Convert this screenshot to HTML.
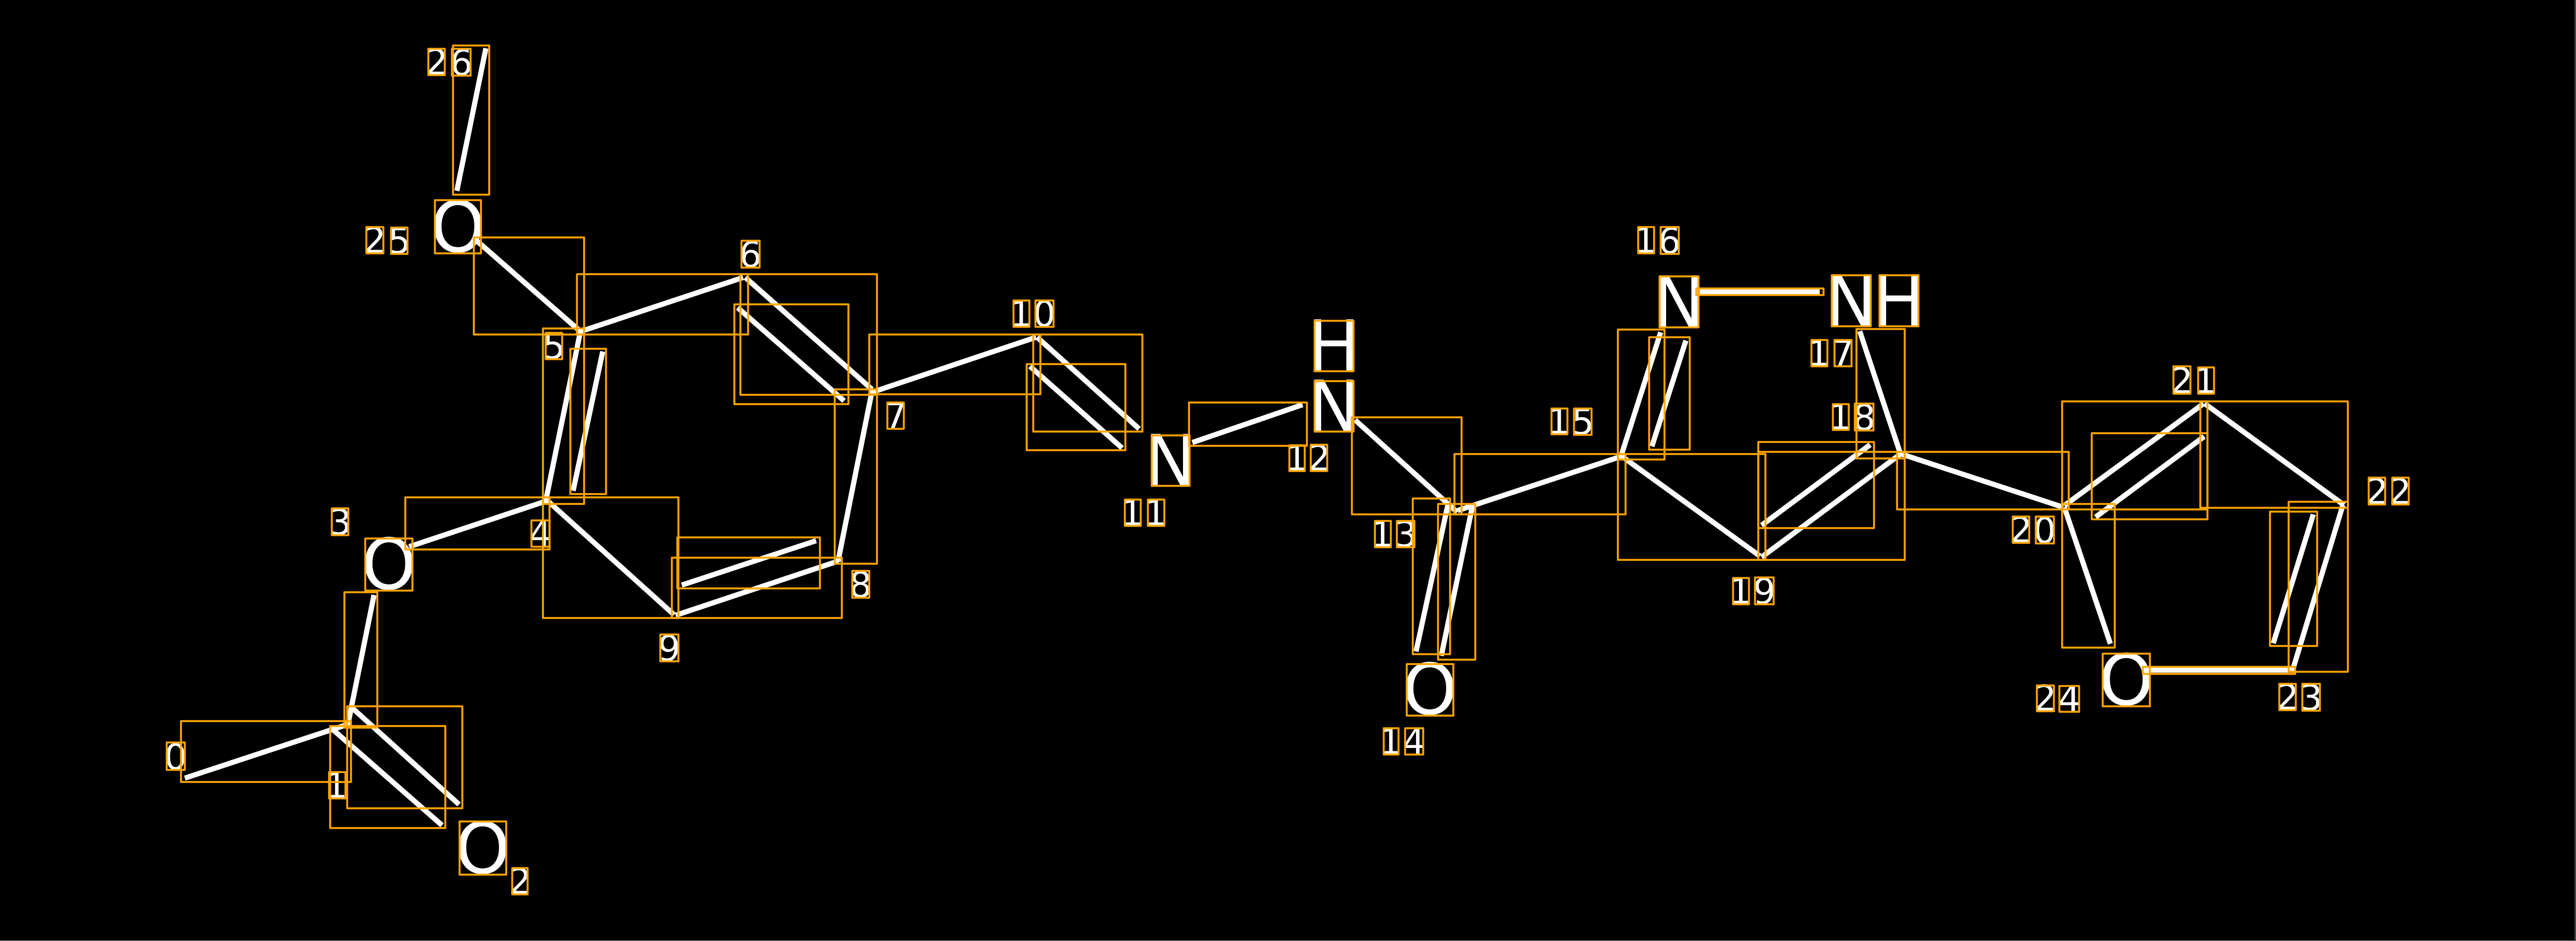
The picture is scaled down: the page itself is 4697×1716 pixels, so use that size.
<!DOCTYPE html>
<html>
<head>
<meta charset="utf-8">
<style>
html,body{margin:0;padding:0;background:#000;width:4697px;height:1716px;overflow:hidden}
svg{display:block}
text{font-family:"DejaVu Sans","Liberation Sans",sans-serif;fill:#fff;text-anchor:middle}
.d{font-size:65px}
.a{font-size:128px}
line{stroke:#fff;stroke-width:9.5;stroke-linecap:butt}
rect{fill:none;stroke:#FFA500;stroke-width:3.5;stroke-linejoin:round}
</style>
</head>
<body>
<svg width="4697" height="1716" viewBox="0 0 4697 1716" xmlns="http://www.w3.org/2000/svg">
<rect x="0" y="0" width="4697" height="1716" style="fill:#000;stroke:none"/>
<path d="M0 1715.5H4695.5V0" fill="none" stroke="#777" stroke-width="1.5"/>

<!-- bonds -->
<line x1="337" y1="1419" x2="637" y2="1320"/>
<line x1="682" y1="1085" x2="634" y2="1323"/>
<line x1="640" y1="1289" x2="837" y2="1467"/>
<line x1="603" y1="1327" x2="806" y2="1505"/>
<line x1="886" y1="88" x2="833" y2="348"/>
<line x1="868" y1="438" x2="1059" y2="605"/>
<line x1="1057" y1="605" x2="1355" y2="506"/>
<line x1="1359" y1="506" x2="1590" y2="710"/>
<line x1="1345" y1="561" x2="1539" y2="731"/>
<line x1="1059" y1="601" x2="995" y2="914"/>
<line x1="1099" y1="641" x2="1045" y2="895"/>
<line x1="746" y1="997" x2="998" y2="913"/>
<line x1="997" y1="912" x2="1229" y2="1121"/>
<line x1="1232" y1="1122" x2="1529" y2="1023"/>
<line x1="1243" y1="1067" x2="1488" y2="986"/>
<line x1="1590" y1="713" x2="1528" y2="1024"/>
<line x1="1588" y1="716" x2="1889" y2="615"/>
<line x1="1891" y1="615" x2="2077" y2="782"/>
<line x1="1878" y1="668" x2="2046" y2="817"/>
<line x1="2174" y1="807" x2="2375" y2="738"/>
<line x1="2471" y1="766" x2="2657" y2="934"/>
<line x1="2641" y1="916" x2="2582" y2="1188"/>
<line x1="2685" y1="922" x2="2628" y2="1196"/>
<line x1="2658" y1="931" x2="2957" y2="832"/>
<line x1="3028" y1="606" x2="2955" y2="834"/>
<line x1="3074" y1="621" x2="3012" y2="814"/>
<line x1="2957" y1="832" x2="3209" y2="1014"/>
<line x1="3212" y1="1016" x2="3464" y2="829"/>
<line x1="3212" y1="958" x2="3410" y2="811"/>
<line x1="3099" y1="532" x2="3318" y2="532"/>
<line x1="3391" y1="604" x2="3466" y2="830"/>
<line x1="3464" y1="827" x2="3762" y2="925"/>
<line x1="3764" y1="922" x2="4018" y2="736"/>
<line x1="3821" y1="943" x2="4019" y2="796"/>
<line x1="4020" y1="736" x2="4274" y2="921"/>
<line x1="4272" y1="921" x2="4180" y2="1223"/>
<line x1="4218" y1="938" x2="4145" y2="1173"/>
<line x1="3915" y1="1222" x2="4184" y2="1222"/>
<line x1="3764" y1="925" x2="3848" y2="1174"/>

<!-- atom labels -->
<text class="a" x="880" y="1592">O</text>
<text class="a" x="709" y="1074">O</text>
<text class="a" x="835" y="459">O</text>
<text class="a" x="2134" y="885">N</text>
<text class="a" x="2432" y="676">H</text>
<text class="a" x="2432" y="786">N</text>
<text class="a" x="2607" y="1302">O</text>
<text class="a" x="3061" y="596">N</text>
<text class="a" x="3375" y="594">N</text>
<text class="a" x="3462" y="594">H</text>
<text class="a" x="3877" y="1285">O</text>

<!-- index labels -->
<text class="d" x="320" y="1403">0</text>
<text class="d" x="613" y="1455">1</text>
<text class="d" x="948" y="1630">2</text>
<text class="d" x="620" y="975">3</text>
<text class="d" x="985" y="996">4</text>
<text class="d" x="1010" y="654">5</text>
<text class="d" x="1368" y="487">6</text>
<text class="d" x="1633" y="781">7</text>
<text class="d" x="1569" y="1089">8</text>
<text class="d" x="1220" y="1205">9</text>
<text class="d" x="1861" y="595">1</text><text class="d" x="1904" y="595">0</text>
<text class="d" x="2064" y="958">1</text><text class="d" x="2107" y="958">1</text>
<text class="d" x="2364" y="858">1</text><text class="d" x="2405" y="858">2</text>
<text class="d" x="2520" y="997">1</text><text class="d" x="2563" y="997">3</text>
<text class="d" x="2535" y="1375">1</text><text class="d" x="2578" y="1375">4</text>
<text class="d" x="2842" y="791">1</text><text class="d" x="2886" y="792">5</text>
<text class="d" x="3000" y="461">1</text><text class="d" x="3044" y="462">6</text>
<text class="d" x="3316" y="667">1</text><text class="d" x="3360" y="667">7</text>
<text class="d" x="3355" y="783">1</text><text class="d" x="3399" y="784">8</text>
<text class="d" x="3173" y="1101">1</text><text class="d" x="3217" y="1101">9</text>
<text class="d" x="3685" y="989">2</text><text class="d" x="3728" y="990">0</text>
<text class="d" x="3978" y="717">2</text><text class="d" x="4021" y="717">1</text>
<text class="d" x="4334" y="919">2</text><text class="d" x="4376" y="919">2</text>
<text class="d" x="4171" y="1294">2</text><text class="d" x="4214" y="1295">3</text>
<text class="d" x="3729" y="1296">2</text><text class="d" x="3773" y="1297">4</text>
<text class="d" x="796" y="136">2</text><text class="d" x="841" y="137">6</text>
<text class="d" x="683" y="461">2</text><text class="d" x="728" y="462">5</text>

<!-- bond boxes -->
<rect x="330" y="1315" width="310" height="111"/>
<rect x="628" y="1080" width="60" height="247"/>
<rect x="633" y="1288" width="210" height="186"/>
<rect x="602" y="1324" width="210" height="186"/>
<rect x="826" y="83" width="66" height="272"/>
<rect x="864" y="433" width="201" height="177"/>
<rect x="1052" y="500" width="312" height="110"/>
<rect x="1350" y="500" width="249" height="220"/>
<rect x="1339" y="555" width="208" height="182"/>
<rect x="990" y="599" width="75" height="320"/>
<rect x="1040" y="636" width="65" height="265"/>
<rect x="739" y="907" width="263" height="95"/>
<rect x="990" y="907" width="247" height="220"/>
<rect x="1225" y="1017" width="310" height="110"/>
<rect x="1235" y="980" width="260" height="93"/>
<rect x="1522" y="710" width="77" height="318"/>
<rect x="1585" y="610" width="312" height="109"/>
<rect x="1884" y="610" width="199" height="177"/>
<rect x="1872" y="664" width="180" height="157"/>
<rect x="2168" y="734" width="215" height="79"/>
<rect x="2465" y="761" width="200" height="177"/>
<rect x="2576" y="909" width="68" height="284"/>
<rect x="2622" y="919" width="68" height="284"/>
<rect x="2652" y="828" width="312" height="110"/>
<rect x="2950" y="601" width="85" height="237"/>
<rect x="3007" y="615" width="74" height="205"/>
<rect x="2950" y="828" width="269" height="193"/>
<rect x="3206" y="824" width="267" height="197"/>
<rect x="3206" y="806" width="211" height="157"/>
<rect x="3093" y="526" width="232" height="12"/>
<rect x="3385" y="600" width="88" height="236"/>
<rect x="3459" y="824" width="313" height="105"/>
<rect x="3760" y="732" width="265" height="197"/>
<rect x="3814" y="790" width="211" height="157"/>
<rect x="4012" y="732" width="269" height="194"/>
<rect x="4173" y="915" width="108" height="310"/>
<rect x="4139" y="933" width="86" height="245"/>
<rect x="3907" y="1216" width="278" height="13"/>
<rect x="3760" y="919" width="96" height="262"/>

<!-- atom label boxes -->
<rect x="838" y="1498" width="85" height="97"/>
<rect x="666" y="982" width="86" height="95"/>
<rect x="793" y="365" width="84" height="97"/>
<rect x="2100" y="794" width="69" height="92"/>
<rect x="2397" y="585" width="71" height="92"/>
<rect x="2397" y="695" width="71" height="92"/>
<rect x="2565" y="1211" width="85" height="94"/>
<rect x="3026" y="504" width="71" height="93"/>
<rect x="3340" y="502" width="71" height="93"/>
<rect x="3427" y="502" width="71" height="93"/>
<rect x="3834" y="1192" width="86" height="96"/>

<!-- index label boxes -->
<rect x="304" y="1354" width="33" height="50"/>
<rect x="600" y="1408" width="30" height="48"/>
<rect x="934" y="1583" width="28" height="48"/>
<rect x="605" y="927" width="30" height="49"/>
<rect x="969" y="949" width="33" height="48"/>
<rect x="995" y="607" width="30" height="48"/>
<rect x="1352" y="439" width="33" height="49"/>
<rect x="1618" y="734" width="30" height="48"/>
<rect x="1554" y="1041" width="31" height="49"/>
<rect x="1204" y="1157" width="33" height="49"/>
<rect x="1848" y="548" width="29" height="48"/><rect x="1888" y="548" width="33" height="48"/>
<rect x="2051" y="911" width="29" height="48"/><rect x="2093" y="911" width="30" height="48"/>
<rect x="2351" y="812" width="28" height="47"/><rect x="2390" y="811" width="30" height="48"/>
<rect x="2507" y="950" width="29" height="48"/><rect x="2547" y="950" width="32" height="48"/>
<rect x="2523" y="1328" width="27" height="48"/><rect x="2562" y="1328" width="33" height="48"/>
<rect x="2829" y="745" width="29" height="47"/><rect x="2870" y="745" width="32" height="48"/>
<rect x="2987" y="414" width="29" height="48"/><rect x="3028" y="414" width="33" height="49"/>
<rect x="3303" y="620" width="29" height="48"/><rect x="3345" y="620" width="31" height="48"/>
<rect x="3342" y="737" width="29" height="47"/><rect x="3382" y="736" width="34" height="49"/>
<rect x="3160" y="1054" width="29" height="48"/><rect x="3200" y="1053" width="34" height="49"/>
<rect x="3670" y="942" width="30" height="48"/><rect x="3712" y="942" width="33" height="49"/>
<rect x="3963" y="668" width="31" height="50"/><rect x="4008" y="670" width="29" height="48"/>
<rect x="4319" y="871" width="30" height="49"/><rect x="4362" y="871" width="30" height="49"/>
<rect x="4156" y="1247" width="30" height="48"/><rect x="4198" y="1247" width="32" height="49"/>
<rect x="3714" y="1250" width="31" height="47"/><rect x="3755" y="1251" width="36" height="47"/>
<rect x="781" y="89" width="30" height="48"/><rect x="824" y="89" width="34" height="49"/>
<rect x="668" y="414" width="31" height="48"/><rect x="713" y="415" width="30" height="48"/>
</svg>
</body>
</html>
